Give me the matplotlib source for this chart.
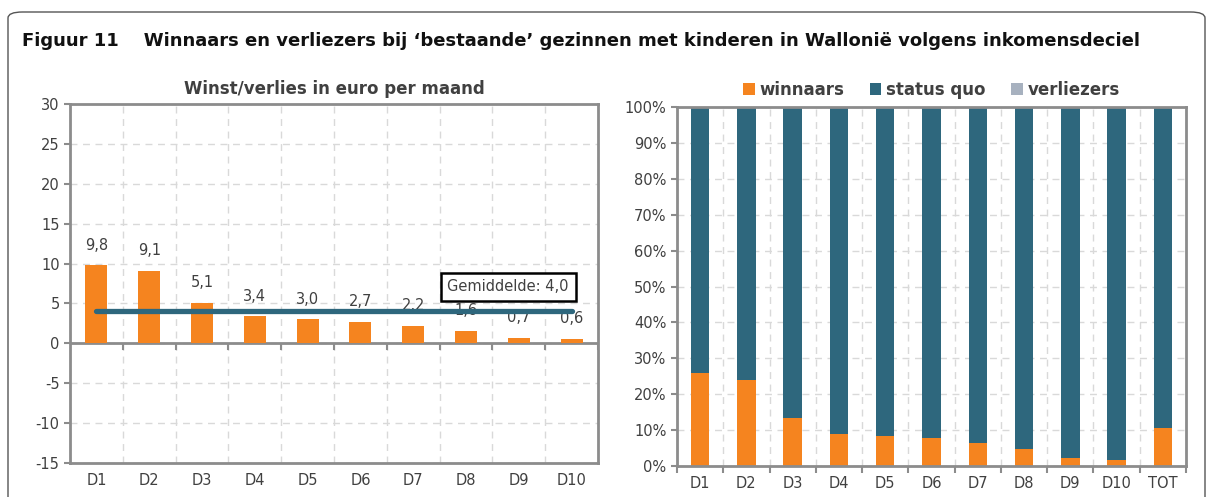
import numpy as np
import matplotlib
matplotlib.use("Agg")
import matplotlib.pyplot as plt
from matplotlib.patches import FancyBboxPatch

# data
deciles = ["D1", "D2", "D3", "D4", "D5", "D6", "D7", "D8", "D9", "D10"]
winst = [9.8, 9.1, 5.1, 3.4, 3.0, 2.7, 2.2, 1.6, 0.7, 0.6]
gemiddelde = 4.0

cats_right = deciles + ["TOT"]
winnaars = [26.0, 24.0, 13.3, 8.8, 8.3, 7.7, 6.5, 4.8, 2.3, 1.8, 10.7]
verliezers = [0.0, 0.0, 0.0, 0.0, 0.0, 0.3, 0.0, 0.0, 0.0, 0.0, 0.0]
status_quo = [100 - w - v for w, v in zip(winnaars, verliezers)]

ORANGE = "#F5841F"
TEAL = "#2E677D"
GREY = "#A7B1BF"
SPINE = "#8C8C8C"
TXT = "#404040"

plt.rcParams['font.family'] = ['DejaVu Sans']
plt.rcParams['axes.unicode_minus'] = False

fig = plt.figure(figsize=(12.14, 4.97), dpi=100)

# rounded border
border = FancyBboxPatch((8 / 1214, -0.05), 1197 / 1214, 1.0 - 12 / 497 + 0.05,
                        boxstyle="round,pad=0,rounding_size=0.012",
                        transform=fig.transFigure, fill=False,
                        edgecolor="#555555", linewidth=1.0)
fig.patches.append(border)

fig.text(22 / 1214, 1 - 41 / 497,
         "Figuur 11    Winnaars en verliezers bij \u2018bestaande\u2019 gezinnen met kinderen in Walloni\u00eb volgens inkomensdeciel",
         fontsize=13, fontweight="bold", color="#111111", va="center", ha="left")


def style_axes(ax, n):
    for s in ax.spines.values():
        s.set_color(SPINE)
        s.set_linewidth(2.0)
    ax.set_xlim(-0.5, n - 0.5)
    ax.set_xticks(np.arange(n))
    ax.set_xticks(np.arange(n + 1) - 0.5, minor=True)
    ax.tick_params(axis="x", which="major", length=0, labelsize=10.5,
                   labelcolor=TXT, pad=7)
    ax.tick_params(axis="x", which="minor", length=0)
    ax.tick_params(axis="y", length=4, width=1.5, color=SPINE,
                   labelsize=10.5, labelcolor=TXT)
    ax.grid(True, which="minor", axis="x", linestyle=(0, (5, 4)),
            color="#D9D9D9", linewidth=1)
    ax.grid(True, which="major", axis="y", linestyle=(0, (5, 4)),
            color="#D9D9D9", linewidth=1)
    ax.set_axisbelow(True)


# left chart
ax1 = fig.add_axes([70 / 1214, 1 - 463 / 497, 528 / 1214, 359 / 497])
x1 = np.arange(len(deciles))
style_axes(ax1, len(deciles))
ax1.set_ylim(-15, 30)
ax1.set_yticks(np.arange(-15, 31, 5))
# zero axis line with category tick marks
ax1.axhline(0, color=SPINE, linewidth=2.0, zorder=1.5)
ax1.vlines(np.arange(len(deciles) + 1) - 0.5, -0.8, 0, color=SPINE,
           linewidth=1.5, zorder=1.5)
ax1.bar(x1, winst, width=0.42, color=ORANGE, zorder=2)
for xi, v in zip(x1, winst):
    ax1.annotate(f"{v:.1f}".replace(".", ","), (xi, v), xytext=(0, 9),
                 textcoords="offset points", ha="center", va="bottom",
                 fontsize=10.5, color=TXT, zorder=3)
ax1.plot([x1[0], x1[-1]], [gemiddelde, gemiddelde], color=TEAL,
         linewidth=3.8, solid_capstyle="round", zorder=4)
ax1.text(7.8, 7.1, "Gemiddelde: " + f"{gemiddelde:.1f}".replace(".", ","),
         ha="center", va="center", fontsize=10.5, color=TXT, zorder=5,
         bbox=dict(boxstyle="square,pad=0.45", facecolor="white",
                   edgecolor="black", linewidth=1.8))
ax1.set_xticklabels(deciles)
ax1.set_title("Winst/verlies in euro per maand", fontsize=12,
              fontweight="bold", color="#404040", pad=7)

# right chart
ax2 = fig.add_axes([677 / 1214, 1 - 466 / 497, 509 / 1214, 359 / 497])
x2 = np.arange(len(cats_right))
style_axes(ax2, len(cats_right))
ax2.set_ylim(0, 100)
ax2.set_yticks(np.arange(0, 101, 10))
ax2.set_yticklabels([f"{t}%" for t in range(0, 101, 10)])
ax2.set_xticklabels(cats_right)
ax2.tick_params(axis="x", which="minor", length=5, width=1.5, color=SPINE)
bw = 0.4
ax2.bar(x2, winnaars, width=bw, color=ORANGE, label="winnaars", zorder=2)
ax2.bar(x2, status_quo, width=bw, bottom=winnaars, color=TEAL,
        label="status quo", zorder=2)
ax2.bar(x2, verliezers, width=bw,
        bottom=[w + s for w, s in zip(winnaars, status_quo)], color=GREY,
        label="verliezers", zorder=2)
leg = ax2.legend(loc="lower center", bbox_to_anchor=(0.5, 1.0), ncol=3,
                 frameon=False, fontsize=12, handlelength=0.7,
                 handleheight=0.7, handletextpad=0.3, columnspacing=1.5,
                 borderaxespad=0.1)
for t in leg.get_texts():
    t.set_color(TXT)
    t.set_fontweight("bold")

fig.savefig("out.png", dpi=100)
